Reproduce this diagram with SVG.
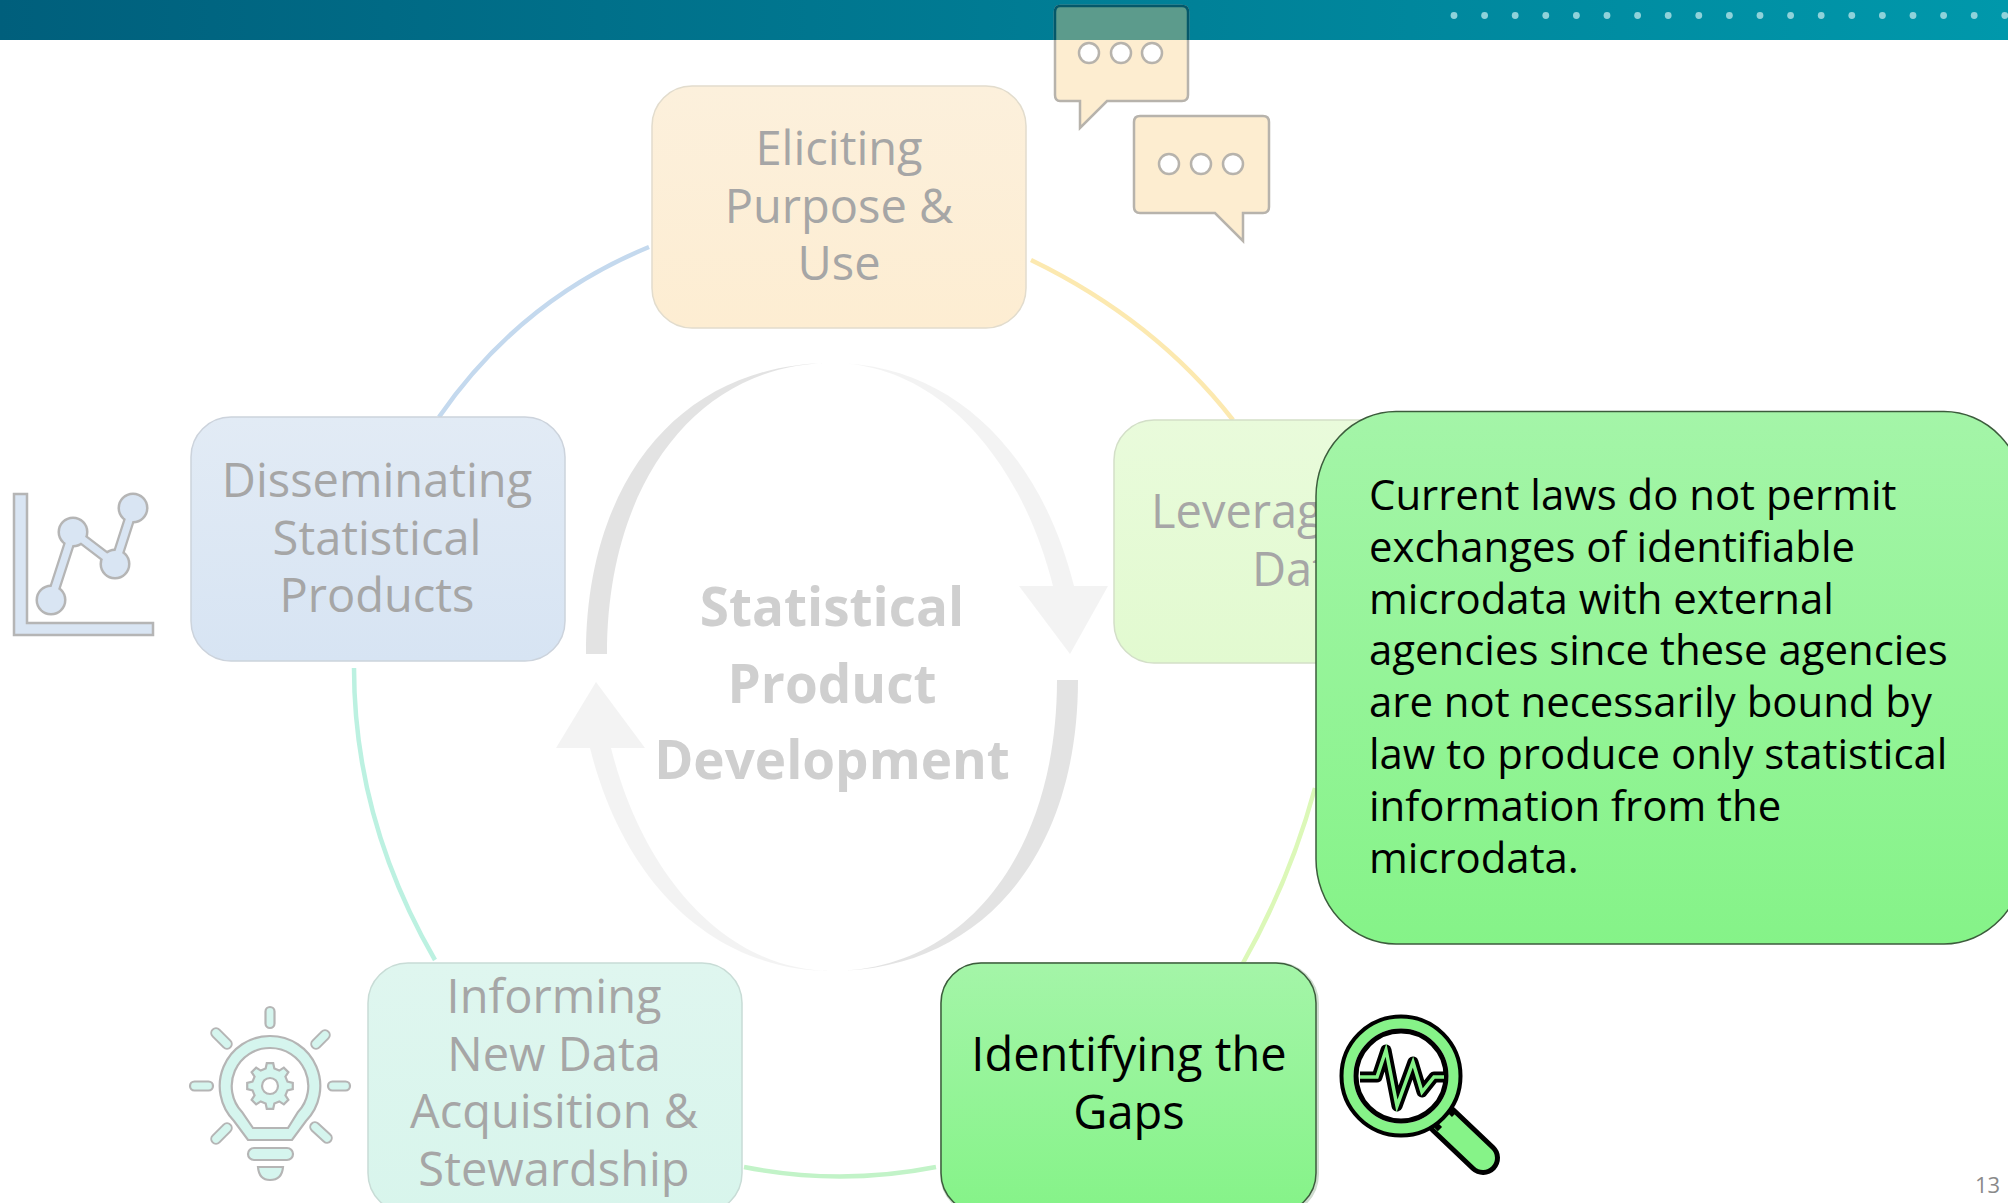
<svg xmlns="http://www.w3.org/2000/svg" width="2008" height="1203" viewBox="0 0 2008 1203">
<style>
.t{font-family:"Open Sans","Noto Sans",sans-serif;font-size:47px;fill:#a6a6a6;text-anchor:middle}
.s{text-anchor:start}
.k{fill:#000}
.c{font-family:"Open Sans","Noto Sans",sans-serif;font-size:41.9px;fill:#000}
.m{font-family:"Open Sans","Noto Sans",sans-serif;font-size:53px;font-weight:700;fill:#cfcfcf;text-anchor:middle}
.line{fill:none;stroke-width:4.5}
</style>
<defs>
<linearGradient id="bar" x1="0" x2="1" y1="0" y2="0"><stop offset="0" stop-color="#005f7c"/><stop offset="1" stop-color="#0098ab"/></linearGradient>
<linearGradient id="gy" x1="0" x2="0" y1="0" y2="1"><stop offset="0" stop-color="#fcf0dc"/><stop offset="1" stop-color="#fdedd2"/></linearGradient>
<linearGradient id="gb" x1="0" x2="0" y1="0" y2="1"><stop offset="0" stop-color="#e2ebf5"/><stop offset="1" stop-color="#d7e4f3"/></linearGradient>
<linearGradient id="gl" x1="0" x2="0" y1="0" y2="1"><stop offset="0" stop-color="#e9fbdb"/><stop offset="1" stop-color="#e2fad0"/></linearGradient>
<linearGradient id="gt" x1="0" x2="0" y1="0" y2="1"><stop offset="0" stop-color="#dff6ef"/><stop offset="1" stop-color="#d8f5ec"/></linearGradient>
<linearGradient id="gg" x1="0" x2="0" y1="0" y2="1"><stop offset="0" stop-color="#a4f5a8"/><stop offset="1" stop-color="#85f388"/></linearGradient>
<linearGradient id="arcT" gradientUnits="userSpaceOnUse" x1="586" x2="1100" y1="0" y2="0"><stop offset="0.416" stop-color="#e3e3e3"/><stop offset="0.513" stop-color="#f3f3f3"/></linearGradient>
<linearGradient id="arcB" gradientUnits="userSpaceOnUse" x1="560" x2="1078" y1="0" y2="0"><stop offset="0.47" stop-color="#f3f3f3"/><stop offset="0.55" stop-color="#e3e3e3"/></linearGradient>
<clipPath id="onbar"><rect x="1040" y="0" width="160" height="40"/></clipPath>
</defs>
<rect width="2008" height="1203" fill="#fff"/>
<rect id="topbar" width="2008" height="40" fill="url(#bar)"/>
<g id="bar-dots" fill="#8fd2da">
<circle cx="1454" cy="15.5" r="3.4"/><circle cx="1484.6" cy="15.5" r="3.4"/><circle cx="1515.2" cy="15.5" r="3.4"/><circle cx="1545.8" cy="15.5" r="3.4"/><circle cx="1576.4" cy="15.5" r="3.4"/><circle cx="1607" cy="15.5" r="3.4"/><circle cx="1637.6" cy="15.5" r="3.4"/><circle cx="1668.2" cy="15.5" r="3.4"/><circle cx="1698.8" cy="15.5" r="3.4"/><circle cx="1729.4" cy="15.5" r="3.4"/><circle cx="1760" cy="15.5" r="3.4"/><circle cx="1790.6" cy="15.5" r="3.4"/><circle cx="1821.2" cy="15.5" r="3.4"/><circle cx="1851.8" cy="15.5" r="3.4"/><circle cx="1882.4" cy="15.5" r="3.4"/><circle cx="1913" cy="15.5" r="3.4"/><circle cx="1943.6" cy="15.5" r="3.4"/><circle cx="1974.2" cy="15.5" r="3.4"/><circle cx="2004.8" cy="15.5" r="3.4"/>
</g>
<g id="connectors">
<path class="line" stroke="#c4d9ee" d="M649 247Q520 300 439 417"/>
<path class="line" stroke="#fce9b0" d="M1031 260Q1155 320 1233 420"/>
<path class="line" stroke="#dcf8b8" d="M1315 788Q1290 880 1243 963"/>
<path class="line" stroke="#c2f3c8" d="M936 1167Q840 1186 744 1167"/>
<path class="line" stroke="#bcf1e1" d="M435 960Q354 820 354 668"/>
</g>
<g id="center-cycle">
<path fill="url(#arcT)" d="M586 654C586 476 685 363 832 363C950 363 1040 450 1074 586H1108L1070 654L1019 586H1053C1020 455 935 363 832 363C700 363 607 480 607 654Z"/>
<path fill="url(#arcB)" d="M1078 680C1078 858 979 971 832 971C714 971 624 884 590 748H556L596 682L645 748H611C644 879 729 971 832 971C964 971 1057 854 1057 680Z"/>
<text class="m" x="832" y="626">Statistical</text>
<text class="m" x="832" y="702.500">Product</text>
<text class="m" x="832" y="779">Development</text>
</g>
<g id="node-eliciting">
<rect x="652" y="86" width="374" height="242" rx="40" fill="url(#gy)" stroke="#e2dccd" stroke-width="1.5"/>
<text class="t" x="839" y="165">Eliciting</text><text class="t" x="839" y="222.500">Purpose &amp;</text><text class="t" x="839" y="280">Use</text>
</g>
<g id="icon-bubbles" fill="#fdedd0" stroke="#b7b3ac" stroke-width="2.5">
<path d="M1060 6H1182Q1188 6 1188 12V95Q1188 101 1182 101H1107L1080 128V101H1060Q1055 101 1055 95V12Q1055 6 1060 6Z"/>
<path clip-path="url(#onbar)" fill="#5c9b8c" stroke="#04586a" d="M1060 6H1182Q1188 6 1188 12V95Q1188 101 1182 101H1107L1080 128V101H1060Q1055 101 1055 95V12Q1055 6 1060 6Z"/>
<path d="M1140 116H1263Q1269 116 1269 122V207Q1269 213 1263 213H1243V241L1215 213H1140Q1134 213 1134 207V122Q1134 116 1140 116Z"/>
<g fill="#fff"><circle cx="1089" cy="53" r="10"/><circle cx="1121" cy="53" r="10"/><circle cx="1152" cy="53" r="10"/><circle cx="1169" cy="164" r="10"/><circle cx="1201" cy="164" r="10"/><circle cx="1233" cy="164" r="10"/></g>
</g>
<g id="node-disseminating">
<rect x="191" y="417" width="374" height="244" rx="40" fill="url(#gb)" stroke="#ccd3dc" stroke-width="1.5"/>
<text class="t" x="377" y="497">Disseminating</text><text class="t" x="377" y="554.500">Statistical</text><text class="t" x="377" y="612">Products</text>
</g>
<g id="icon-chart">
<path d="M14 494H27V623H153V635H14Z" fill="#d9e5f3" stroke="#b5b5b5" stroke-width="2.5"/>
<g fill="#b5b5b5"><circle cx="51" cy="600" r="15.500"/><circle cx="73" cy="532" r="15.500"/><circle cx="115" cy="564" r="15.500"/><circle cx="133" cy="508" r="15.500"/></g>
<path d="M51 600L73 532L115 564L133 508" fill="none" stroke="#b5b5b5" stroke-width="11.500"/>
<path d="M51 600L73 532L115 564L133 508" fill="none" stroke="#d9e5f3" stroke-width="7"/>
<g fill="#d9e5f3"><circle cx="51" cy="600" r="13"/><circle cx="73" cy="532" r="13"/><circle cx="115" cy="564" r="13"/><circle cx="133" cy="508" r="13"/></g>
</g>
<g id="node-leveraging">
<rect x="1114" y="420" width="374" height="243" rx="40" fill="url(#gl)" stroke="#d3dfc8" stroke-width="1.5"/>
<text class="t s" x="1151" y="528">Leveraging</text><text class="t s" x="1252" y="586">Data</text>
</g>
<g id="node-informing">
<rect x="368" y="963" width="374" height="250" rx="40" fill="url(#gt)" stroke="#c8dcd6" stroke-width="1.5"/>
<text class="t" x="554" y="1013">Informing</text><text class="t" x="554" y="1070.500">New Data</text><text class="t" x="554" y="1128">Acquisition &amp;</text><text class="t" x="554" y="1185.500">Stewardship</text>
</g>
<g id="icon-bulb" fill="#d5f5ee" stroke="#b5b5b5" stroke-width="2.200">
<rect x="265.500" y="1007" width="9" height="21" rx="4.500"/>
<rect x="190" y="1081.500" width="23" height="9" rx="4.500"/>
<rect x="328" y="1081.500" width="22" height="9" rx="4.500"/>
<path d="M216 1033L227 1044M316 1044L325 1035M216 1139L227 1128M315 1127L327 1138" stroke-width="11.500" stroke-linecap="round" fill="none"/>
<path d="M216 1033L227 1044M316 1044L325 1035M216 1139L227 1128M315 1127L327 1138" stroke="#d5f5ee" stroke-width="7.500" stroke-linecap="round" fill="none"/>
<path fill-rule="evenodd" d="M270 1036A50 50 0 0 1 306 1121L292 1140H248L234 1121A50 50 0 0 1 270 1036ZM270 1048A38 38 0 0 0 242 1112L253 1128H288L298 1112A38 38 0 0 0 270 1048Z"/>
<rect x="248" y="1148" width="45" height="12" rx="6"/>
<path d="M258 1167H283Q282 1180 270 1180Q259 1180 258 1167Z"/>
<path fill-rule="evenodd" d="M265.650 1068.530L266.800 1063.220L273.200 1063.220L274.350 1068.530L279.270 1070.570L283.840 1067.630L288.370 1072.160L285.430 1076.730L287.470 1081.650L292.780 1082.800L292.780 1089.200L287.470 1090.350L285.430 1095.270L288.370 1099.840L283.840 1104.370L279.270 1101.430L274.350 1103.470L273.200 1108.780L266.800 1108.780L265.650 1103.470L260.730 1101.430L256.160 1104.370L251.630 1099.840L254.570 1095.270L252.530 1090.350L247.220 1089.200L247.220 1082.800L252.530 1081.650L254.570 1076.730L251.630 1072.160L256.160 1067.630L260.730 1070.570ZM270 1078A8 8 0 1 0 270 1094A8 8 0 1 0 270 1078Z"/>
</g>
<g id="node-identifying">
<rect x="942" y="964" width="375" height="250" rx="40" fill="none" stroke="#cfdccf" stroke-width="4"/>
<rect x="941" y="963" width="375" height="250" rx="40" fill="url(#gg)" stroke="#3c5c3c" stroke-width="1.5"/>
<text class="t k" x="1129" y="1071">Identifying the</text><text class="t k" x="1129" y="1128.500">Gaps</text>
</g>
<g id="icon-magnifier">
<path d="M1443 1120L1483 1158" stroke="#000" stroke-width="34" stroke-linecap="round"/>
<path d="M1443 1120L1483 1158" stroke="#86f388" stroke-width="24" stroke-linecap="round"/>
<path d="M1432 1107L1447 1122" stroke="#000" stroke-width="26"/>
<path d="M1433 1108L1448 1123" stroke="#86f388" stroke-width="14"/>
<circle cx="1401" cy="1076" r="55" fill="#fff" stroke="#000" stroke-width="13"/>
<circle cx="1401" cy="1076" r="52.500" fill="none" stroke="#86f388" stroke-width="10"/>
<circle cx="1401" cy="1076" r="45" fill="#fff" stroke="#000" stroke-width="5"/>
<path d="M1360 1077H1377L1386 1050L1397 1106L1413 1062L1422 1092L1434 1077H1444" fill="none" stroke="#000" stroke-width="11" stroke-linejoin="round"/>
<path d="M1360 1077H1377L1386 1050L1397 1106L1413 1062L1422 1092L1434 1077H1444" fill="none" stroke="#86f388" stroke-width="3.500"/>
</g>
<g id="callout">
<rect x="1316" y="411.500" width="708" height="532.500" rx="80" ry="85" fill="url(#gg)" stroke="#3c5c3c" stroke-width="1.5"/>
<text class="c" x="1369" y="510">Current laws do not permit</text>
<text class="c" x="1369" y="561.800">exchanges of identifiable</text>
<text class="c" x="1369" y="613.600">microdata with external</text>
<text class="c" x="1369" y="665.400">agencies since these agencies</text>
<text class="c" x="1369" y="717.200">are not necessarily bound by</text>
<text class="c" x="1369" y="769">law to produce only statistical</text>
<text class="c" x="1369" y="820.800">information from the</text>
<text class="c" x="1369" y="872.600">microdata.</text>
</g>
<text id="page-number" x="1975" y="1193" font-family="'Open Sans','Noto Sans',sans-serif" font-size="22" fill="#8a8a8a">13</text>
</svg>
